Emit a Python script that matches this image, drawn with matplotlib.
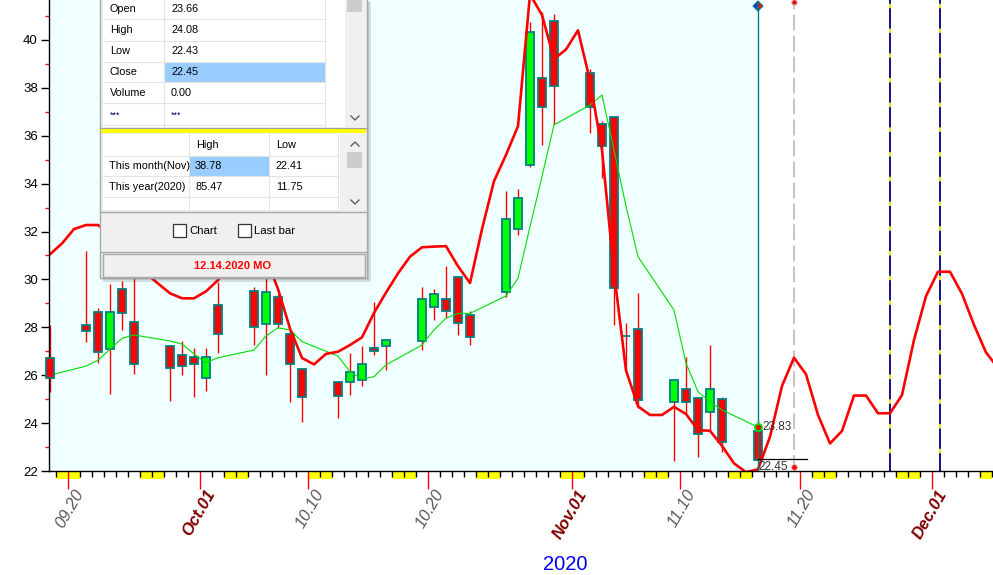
import matplotlib
matplotlib.use("Agg")
import matplotlib.pyplot as plt
import matplotlib.transforms as mtransforms
from matplotlib.patches import Rectangle, Polygon
import numpy as np

plt.rcParams['font.family'] = ['Liberation Sans', 'DejaVu Sans']
plt.rcParams['lines.scale_dashes'] = False

# ---------------- data (day index = calendar days since 2020-09-18) ----------------
candle_day = [0, 3, 4, 5, 6, 7, 10, 11, 12, 13, 14, 17, 18, 19, 20, 21, 24, 25, 26, 27, 28,
              31, 32, 33, 34, 35, 38, 39, 40, 41, 42, 45, 46, 47, 48, 49, 52, 53, 54, 55, 56, 59]
candle_open = [26.70, 28.10, 28.63, 27.08, 29.60, 28.21, 27.22, 26.83, 26.75, 25.87, 28.92,
               29.53, 28.12, 29.28, 27.72, 26.26, 25.70, 25.73, 25.78, 27.12, 27.23,
               27.43, 28.86, 29.17, 30.11, 28.51, 29.47, 32.09, 34.78, 38.39, 40.80,
               38.60, 36.48, 36.80, 27.65, 27.92, 24.87, 25.42, 25.03, 24.47, 25.00, 23.66]
candle_high = [28.10, 31.20, 28.80, 29.80, 29.95, 31.20, 27.22, 27.43, 27.12, 27.12, 29.90,
               29.70, 30.40, 29.40, 27.90, 26.26, 25.70, 26.94, 27.23, 29.07, 27.46,
               29.70, 29.60, 30.56, 30.11, 28.68, 33.69, 33.77, 40.76, 41.15, 41.08,
               38.78, 36.60, 36.80, 28.17, 29.42, 25.80, 26.77, 25.10, 27.26, 25.07, 24.08]
candle_low = [25.30, 27.40, 26.52, 25.20, 27.90, 26.05, 24.94, 26.00, 25.10, 25.35, 26.94,
              27.26, 26.00, 27.96, 24.90, 24.06, 24.20, 25.17, 25.55, 26.84, 26.22,
              27.05, 28.30, 28.40, 27.68, 27.26, 29.28, 31.85, 34.70, 35.60, 36.49,
              36.13, 34.22, 28.10, 26.20, 24.62, 22.43, 24.38, 22.60, 23.71, 22.78, 22.43]
candle_close = [25.90, 27.85, 26.96, 28.63, 28.58, 26.46, 26.29, 26.38, 26.46, 26.75, 27.72,
                28.03, 29.49, 28.12, 26.45, 25.08, 25.14, 26.12, 26.46, 27.02, 27.46,
                29.20, 29.38, 28.70, 28.19, 27.61, 32.51, 33.39, 40.32, 37.20, 38.08,
                37.20, 35.59, 29.63, 27.62, 24.96, 25.80, 24.87, 23.54, 25.42, 23.20, 22.45]
ma_value = [26.00, 26.38, 26.63, 27.08, 27.54, 27.68, 27.43, 27.30, 26.89, 26.52, 26.73,
            27.05, 27.64, 27.98, 27.89, 27.40, 26.80, 26.15, 25.83, 25.94, 26.43,
            27.26, 27.89, 28.38, 28.58, 28.58, 29.31, 30.05, 32.20, 34.30, 36.45,
            37.28, 37.70, 35.40, 33.06, 30.95, 28.72, 26.50, 25.31, 24.89, 24.55, 23.83]

curve_day = list(range(0, 80))
curve_value = [31.05, 31.50, 32.10, 32.27, 32.27, 31.90, 31.30, 30.70, 30.25, 29.83,
               29.42, 29.21, 29.21, 29.50, 29.97, 30.60, 31.00, 31.30, 30.90, 29.60,
               27.95, 26.72, 26.45, 26.89, 26.98, 27.26, 27.58, 28.60, 29.45, 30.25,
               30.95, 31.34, 31.37, 31.39, 30.55, 29.85, 32.10, 34.10, 35.20, 36.40,
               41.90, 41.04, 39.20, 39.60, 40.40, 38.30, 35.40, 30.30, 26.20, 24.70,
               24.34, 24.34, 24.68, 24.38, 23.71, 23.68, 23.05, 22.32, 21.95, 22.07,
               23.43, 25.55, 26.73, 26.04, 24.34, 23.15, 23.67, 25.15, 25.15, 24.41,
               24.41, 25.17, 27.47, 29.30, 30.32, 30.32, 29.40, 28.10, 26.95, 26.30]

weekend_days = [1, 2, 8, 9, 15, 16, 22, 23, 29, 30, 36, 37, 43, 44, 50, 51, 57, 58,
                64, 65, 71, 72, 78]
label_days = [2, 13, 22, 32, 44, 53, 63, 74]
label_text = ['09.20', 'Oct.01', '10.10', '10.20', 'Nov.01', '11.10', '11.20', 'Dec.01']
label_is_month = [False, True, False, False, True, False, False, True]
ytick_values = [22, 24, 26, 28, 30, 32, 34, 36, 38, 40]

last_day = 59
last_ma = 23.83
last_close = 22.45
cursor_day = 62
cycle_days = [70, 74.17]

info_labels = ['Open', 'High', 'Low', 'Close', 'Volume', '***']
info_values = ['23.66', '24.08', '22.43', '22.45', '0.00', '***']
range_rows = ['This month(Nov)', 'This year(2020)']
range_high = ['38.78', '85.47']
range_low = ['22.41', '11.75']
footer_text = '12.14.2020 MO'
year_text = '2020'

# ---------------- figure ----------------
W, H = 993, 575
fig = plt.figure(figsize=(W / 100, H / 100), dpi=100)
fig.patch.set_facecolor('white')

ax_l, ax_r, ax_t, ax_b = 49, 993, 0, 471
ax = fig.add_axes([ax_l / W, (H - ax_b) / H, (ax_r - ax_l) / W, (ax_b - ax_t) / H])
px_per_day = 12.0
px_per_unit = 23.95
x0 = -1 / 12
ax.set_xlim(x0, x0 + (ax_r - ax_l) / px_per_day)
ax.set_ylim(22, 22 + (ax_b - ax_t) / px_per_unit)
ax.set_facecolor('white')
ax.axvspan(x0, last_day, color='#F0FFFF', lw=0, zorder=0)

for s in ['top', 'right']:
    ax.spines[s].set_visible(False)
for s in ['left', 'bottom']:
    ax.spines[s].set_color('black')
    ax.spines[s].set_linewidth(1.0)
    ax.spines[s].set_zorder(6)

# y ticks
ax.set_yticks(ytick_values)
ax.set_yticks([v + 1 for v in ytick_values], minor=True)
ax.tick_params(axis='y', which='major', length=6, width=1, color='black',
               labelsize=9.5, pad=2, labelcolor='black')
ax.tick_params(axis='y', which='minor', length=3, width=1, color='red')

# x ticks
ax.set_xticks([d - 0.5 for d in label_days])
ax.set_xticks(np.arange(0.5, 79, 1.0), minor=True)
ax.tick_params(axis='x', which='major', length=13, width=1, color='red', labelbottom=False)
ax.tick_params(axis='x', which='minor', length=4, width=1, color='black')

trans = mtransforms.blended_transform_factory(ax.transData, ax.transAxes)
# weekend yellow blocks
for d in weekend_days:
    ax.add_patch(Rectangle((d - 0.5, 0), 1.0, -8 / 471, transform=trans, facecolor='#FFFF00',
                           edgecolor='none', clip_on=False, zorder=1))

# x labels
for d, t, m in zip(label_days, label_text, label_is_month):
    ax.text(d - 0.5 + 1.0, -20 / 471, t, transform=trans, rotation=60, rotation_mode='anchor',
            ha='right', va='center', fontsize=12, style='italic',
            fontweight='bold' if m else 'normal',
            color='#800000' if m else '#5A5A5A', clip_on=False)

# candles
for d, o, h, l, c in zip(candle_day, candle_open, candle_high, candle_low, candle_close):
    ax.vlines(d, l, h, color='red', lw=1.0, zorder=2, clip_on=False)
    col = '#00FF00' if c > o else '#FF0000'
    ax.bar(d, abs(c - o), bottom=min(o, c), width=0.66, color=col, edgecolor='#008080',
           linewidth=1.3, zorder=7 if d == 0 else 3, clip_on=False)

# lines
ax.plot(candle_day, ma_value, color='#00DD00', lw=0.8, zorder=4)
ax.plot(curve_day, curve_value, color='#FF0000', lw=1.9, zorder=5, solid_joinstyle='round')

ytop = 22 + (ax_b - ax_t) / px_per_unit
# cursor lines
ax.plot([last_day, last_day], [22, ytop - 0.35], color='#008080', lw=1.0, zorder=6)
ax.plot([cursor_day, cursor_day], [22, ytop], color='#C0C0C0', lw=1.3,
        linestyle=(0, (11.5, 3.6)), zorder=2)
for cd in cycle_days:
    ax.plot([cd, cd], [22, ytop], color='#000080', lw=1.3, zorder=2)
    ax.plot([cd, cd], [22, ytop], color='#FFFF00', lw=1.3, linestyle=(5, (3.2, 14.6)), zorder=2)

# diamond marker at top
vd = 22 + (ax_b - 6) / px_per_unit
hw = 5 / px_per_day
hh = 5 / px_per_unit
ax.add_patch(Polygon([(last_day - hw, vd), (last_day, vd + hh), (last_day, vd - hh)],
                     closed=True, facecolor='#1030FF', edgecolor='#008080', lw=0.8,
                     clip_on=False, zorder=7))
ax.add_patch(Polygon([(last_day + hw, vd), (last_day, vd + hh), (last_day, vd - hh)],
                     closed=True, facecolor='#FF1010', edgecolor='#008080', lw=0.8,
                     clip_on=False, zorder=7))
ax.plot(cursor_day, 22 + (ax_b - 2.5) / px_per_unit, 'o', ms=4, color='red',
        mec='#D0D0D0', mew=0.8, clip_on=False, zorder=7)
ax.plot(cursor_day, 22 + (ax_b - 466.7) / px_per_unit, 'o', ms=4, color='red',
        mec='#E0A0A0', mew=0.6, zorder=7)
ax.plot([last_day, last_day + 4.1], [last_close + 0.04, last_close + 0.04], color='black',
        lw=0.9, zorder=6)
ax.plot(last_day, last_ma, 'o', ms=5, mfc='red', mec='#00DD00', mew=1.3, zorder=7)
ax.text(last_day + 0.4, last_ma, f'{last_ma:.2f}', fontsize=8.5, color='#333333',
        ha='left', va='center', zorder=8)
ax.text(last_day + 0.05, 22 + (ax_b - 466.5) / px_per_unit, f'{last_close:.2f}',
        fontsize=8.5, color='#333333', ha='left', va='center', zorder=8)

# year label
fig.text(565 / W, 1 - 564 / H, year_text, color='#0000F0', fontsize=14.5,
         ha='center', va='center')

# ---------------- info panel overlay (pixel coords) ----------------
ov = fig.add_axes([0, 0, 1, 1], zorder=10)
ov.set_xlim(0, W)
ov.set_ylim(H, 0)
ov.axis('off')
ov.patch.set_alpha(0)


def rect(xa, ya, xb, yb, fc, ec='none', lw=0.0, z=1, alpha=1.0):
    ov.add_patch(Rectangle((xa, ya), xb - xa, yb - ya, facecolor=fc, edgecolor=ec,
                           linewidth=lw, zorder=z, alpha=alpha))


def hline(y, xa, xb, c='#E3E3E3', lw=0.8, z=3):
    ov.plot([xa, xb], [y, y], color=c, lw=lw, zorder=z)


def vline(x, ya, yb, c='#E3E3E3', lw=0.8, z=3):
    ov.plot([x, x], [ya, yb], color=c, lw=lw, zorder=z)


FS = 7.8
# shadow
rect(103, 2, 371, 282, '#000000', z=0.5, alpha=0.12)
rect(102, 1, 369, 280, '#000000', z=0.6, alpha=0.10)
# panel body
rect(100, -2, 367, 278, '#F0F0F0', ec='#A8A8A8', lw=1.0, z=1)
# top table
rect(103, -1, 345, 127, '#FFFFFF', z=2)
rect(345, -1, 365, 127, '#F0F0F0', z=2)
rect(347, -1, 362, 12, '#CDCDCD', z=3)
ov.plot([351, 355, 359], [116, 120, 116], color='#606060', lw=1.0, zorder=4)
rect(165, 62, 325, 82, '#99CCFF', z=2.5)
for y in [19.3, 40.7, 61.7, 82.3, 103.3, 125]:
    hline(y, 103, 325)
vline(164.3, -1, 127)
vline(325, -1, 127)
row_y = [9, 30, 51, 72, 93, 114]
for lab, val, y in zip(info_labels, info_values, row_y):
    if lab == '***':
        ov.text(110, y + 1, lab, fontsize=6.5, color='#000080', ha='left', va='center', zorder=5)
        ov.text(171, y + 1, val, fontsize=6.5, color='#000080', ha='left', va='center', zorder=5)
    else:
        ov.text(110, y, lab, fontsize=FS, color='black', ha='left', va='center', zorder=5)
        ov.text(171, y, val, fontsize=FS, color='black', ha='left', va='center', zorder=5)
# yellow separator
rect(101, 128.5, 366, 132.8, '#FFFF00', z=3)
hline(127.5, 101, 366, c='#A0A0A0', lw=0.8)
# second table
rect(103, 133.5, 340, 210, '#FFFFFF', z=2)
rect(345, 133.5, 365, 210, '#F0F0F0', z=2)
rect(347, 152, 362, 168, '#CDCDCD', z=3)
ov.plot([351, 355, 359], [146, 142, 146], color='#606060', lw=1.0, zorder=4)
ov.plot([351, 355, 359], [200, 204, 200], color='#606060', lw=1.0, zorder=4)
rect(190, 156, 269, 176, '#99CCFF', z=2.5)
for y in [155.7, 176, 197.3]:
    hline(y, 103, 338)
for x in [189.3, 269.3, 338.3]:
    vline(x, 133.5, 210)
ov.text(196, 145, 'High', fontsize=FS, ha='left', va='center', zorder=5)
ov.text(276, 145, 'Low', fontsize=FS, ha='left', va='center', zorder=5)
for i, (rn, hi, lo) in enumerate(zip(range_rows, range_high, range_low)):
    y = 166 + 21 * i
    ov.text(109, y, rn, fontsize=FS, ha='left', va='center', zorder=5)
    ov.text(195, y, hi, fontsize=FS, ha='left', va='center', zorder=5)
    ov.text(276, y, lo, fontsize=FS, ha='left', va='center', zorder=5)
hline(211.7, 101, 366, c='#A8A8A8', lw=1.0)
hline(251.7, 101, 366, c='#A8A8A8', lw=1.0)
# checkboxes
for bx, txt in [(173, 'Chart'), (238, 'Last bar')]:
    rect(bx, 224, bx + 13, 237, '#FFFFFF', ec='#333333', lw=0.9, z=4)
    ov.text(bx + 16, 231, txt, fontsize=FS + 0.4, ha='left', va='center', zorder=5)
# footer
rect(102.5, 254, 365, 277, '#F0F0F0', ec='#A8A8A8', lw=1.0, z=3)
ov.text(233, 266, footer_text, fontsize=8, color='#FF0000', fontweight='bold',
        ha='center', va='center', zorder=5)

fig.savefig('out.png', dpi=100)
